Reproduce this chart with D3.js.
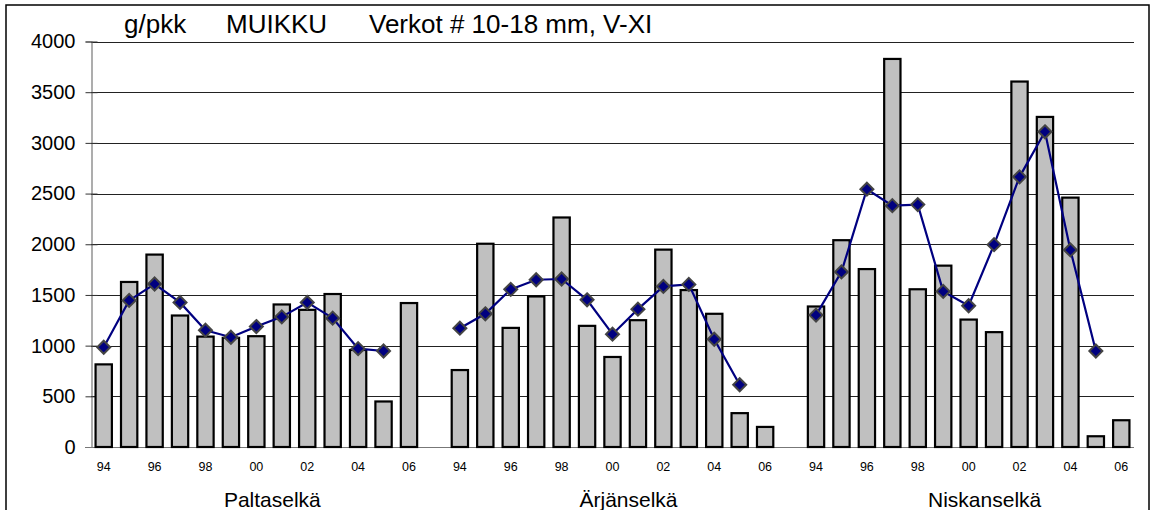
<!DOCTYPE html>
<html><head><meta charset="utf-8">
<script src="https://cdn.jsdelivr.net/npm/d3@7"></script>
<style>
html,body{margin:0;padding:0;background:#fff;}
svg{display:block;font-family:"Liberation Sans",Arial,sans-serif;}
</style></head>
<body>
<svg id="chart" width="1151" height="510"></svg>
<script>
const years = ["94","95","96","97","98","99","00","01","02","03","04","05","06"];
const tickYears = ["94","96","98","00","02","04","06"];
const groups = ["Paltaselkä","Ärjänselkä","Niskanselkä"];
const yTicks = [0,500,1000,1500,2000,2500,3000,3500,4000];
const titleParts = ["g/pkk","MUIKKU","Verkot # 10-18 mm, V-XI"];

const paltaBars = [815,1628,1898,1297,1089,1077,1093,1406,1353,1509,957,449,1420];
const paltaLine = [984,1446,1608,1426,1152,1083,1188,1284,1426,1271,970,947,null];
const arjaBars  = [759,2005,1175,1485,2264,1195,888,1251,1947,1548,1314,334,198];
const arjaLine  = [1172,1314,1555,1650,1657,1452,1113,1360,1584,1604,1063,614,null];
const niskaBars = [1386,2040,1755,3828,1556,1789,1257,1133,3605,3256,2460,106,264];
const niskaLine = [1301,1727,2543,2381,2391,1535,1393,1996,2665,3109,1944,947,null];

const barSeries = [paltaBars, arjaBars, niskaBars];
const lineSeries = [paltaLine, arjaLine, niskaLine];

const svg = d3.select("#chart");
const plot = {left:91, right:1134, top:41.5, bottom:447};

// category keys: 13 per group, with one empty slot between groups
const keys = [];
groups.forEach((g,gi)=>{
  years.forEach(y=>keys.push(g+"|"+y));
  if(gi < groups.length-1) keys.push("gap"+gi);
});

const x = d3.scaleBand().domain(keys).range([plot.left, plot.right]).paddingInner(0.28).paddingOuter(0.14);
const y = d3.scaleLinear().domain([0,4000]).range([plot.bottom, plot.top]);

// outer frame
svg.append("rect").attr("x",6).attr("y",5).attr("width",1143).attr("height",520)
  .attr("fill","#fff").attr("stroke","#000").attr("stroke-width",1.5);

// gridlines
svg.append("g").selectAll("line").data(yTicks.filter(d=>d>0)).join("line")
  .attr("x1",plot.left).attr("x2",plot.right)
  .attr("y1",d=>Math.round(y(d))+0.5).attr("y2",d=>Math.round(y(d))+0.5)
  .attr("stroke","#222").attr("stroke-width",1);

// y axis
const yAxis = d3.axisLeft(y).tickValues(yTicks).tickSize(6).tickPadding(10).tickFormat(d3.format("d"));
const gy = svg.append("g").attr("transform",`translate(${plot.left+0.5},0)`).call(yAxis);
gy.select(".domain").attr("stroke","#777").attr("stroke-width",1.2);
gy.selectAll(".tick line").attr("stroke","#333").attr("x2",-6).attr("x1",6);
gy.selectAll(".tick text").attr("font-size","20px").attr("fill","#000")
  .attr("font-family","Liberation Sans, Arial, sans-serif").attr("x",-16);

// x axis baseline
svg.append("line").attr("x1",plot.left-6).attr("x2",plot.right)
  .attr("y1",Math.round(y(0))+0.5).attr("y2",Math.round(y(0))+0.5)
  .attr("stroke","#777").attr("stroke-width",1.2);

// bars
groups.forEach((g,gi)=>{
  const data = years.map((yr,i)=>({key:g+"|"+yr, v:barSeries[gi][i]}));
  svg.append("g").selectAll("rect").data(data).join("rect")
    .attr("x",d=>x(d.key)+1)
    .attr("width",x.bandwidth()-2)
    .attr("y",d=>y(d.v))
    .attr("height",d=>y(0)-y(d.v))
    .attr("fill","#c0c0c0").attr("stroke","#000").attr("stroke-width",2.2);
});

// lines + markers
const line = d3.line().defined(d=>d.v!=null).x(d=>x(d.key)+x.bandwidth()/2).y(d=>y(d.v));
groups.forEach((g,gi)=>{
  const data = years.map((yr,i)=>({key:g+"|"+yr, v:lineSeries[gi][i]}));
  svg.append("path").datum(data).attr("d",line)
    .attr("fill","none").attr("stroke","#000080").attr("stroke-width",2.2);
  svg.append("g").selectAll("path").data(data.filter(d=>d.v!=null)).join("path")
    .attr("transform",d=>`translate(${x(d.key)+x.bandwidth()/2},${y(d.v)})`)
    .attr("d","M0,-6.5L6.5,0L0,6.5L-6.5,0Z")
    .attr("fill","#000080").attr("stroke","#444").attr("stroke-width",2);
});

// x tick labels
groups.forEach((g)=>{
  svg.append("g").selectAll("text").data(tickYears).join("text")
    .attr("x",d=>x(g+"|"+d)+x.bandwidth()/2)
    .attr("y",471)
    .attr("text-anchor","middle").attr("font-size","12.5px").attr("fill","#000")
    .text(d=>d);
});

// group labels
svg.append("g").selectAll("text").data(groups).join("text")
  .attr("x",g=>(x(g+"|"+years[0]) + x(g+"|"+years[years.length-1]) + x.bandwidth())/2 + 16)
  .attr("y",507)
  .attr("text-anchor","middle").attr("font-size","21px").attr("fill","#000")
  .text(g=>g);

// title
const titleX = [124,226,369];
svg.append("g").selectAll("text").data(titleParts).join("text")
  .attr("x",(d,i)=>titleX[i]).attr("y",33)
  .attr("font-size","26px").attr("fill","#000")
  .text(d=>d);
</script>
</body></html>
